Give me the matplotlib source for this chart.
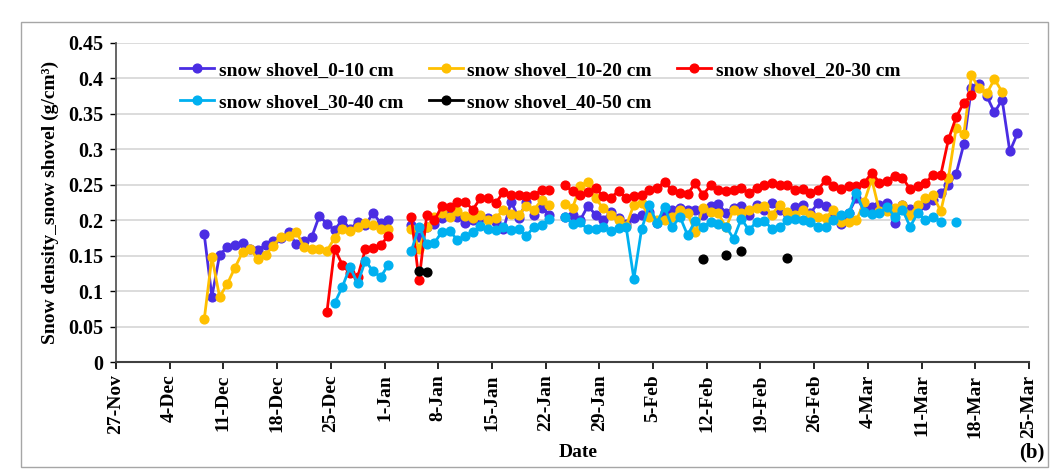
import matplotlib
matplotlib.use('Agg')
import matplotlib.pyplot as plt
import numpy as np
import pandas as pd
from matplotlib.patches import Rectangle

N = None
# daily sampling dates (Dec 8 2019 -> Mar 23 2020)
dates = pd.date_range('2019-12-08', '2020-03-23', freq='D')

depth_0_10 = [
    0.18, 0.092, 0.151, 0.162, 0.165, 0.168, 0.16, 0.158, 0.165, 0.17, 0.175, 0.183, 0.166,
    0.17, 0.176, 0.206, 0.195, 0.186, 0.201, 0.187, 0.198, 0.193, 0.21, 0.196, 0.2,
    N, N,
    0.193, 0.176, 0.19, 0.195, 0.203, 0.208, 0.205, 0.196, 0.2, 0.203, 0.203, 0.198, 0.187,
    0.226, 0.203, 0.226, 0.208, 0.217, 0.208,
    N,
    0.205, 0.207, 0.2, 0.22, 0.208, 0.2, 0.212, 0.203, 0.194, 0.203, 0.208, 0.212, 0.196,
    0.212, 0.215, 0.217, 0.215, 0.215, 0.208, 0.22, 0.223, 0.21, 0.217, 0.22, 0.208,
    0.221, 0.215, 0.224, 0.215, 0.21, 0.218, 0.221, 0.21, 0.224, 0.22, 0.208, 0.194, 0.21,
    0.232, 0.215, 0.218, 0.222, 0.224, 0.196, 0.222, 0.216, 0.218, 0.222, 0.229, 0.2385,
    0.249, 0.2655, 0.307, 0.387, 0.392, 0.375, 0.352, 0.37, 0.297, 0.3225,
]

depth_10_20 = [
    0.06, 0.148, 0.092, 0.11, 0.133, 0.155, 0.159, 0.145, 0.151, 0.164, 0.177, 0.178, 0.184,
    0.162, 0.159, 0.159, 0.157, 0.175, 0.187, 0.185, 0.19, 0.196, 0.193, 0.187, 0.187,
    N, N,
    0.188, 0.16, 0.19, 0.204, 0.21, 0.205, 0.213, 0.206, 0.203, 0.208, 0.2, 0.203, 0.215,
    0.209, 0.208, 0.22, 0.215, 0.229, 0.222,
    N,
    0.223, 0.217, 0.248, 0.254, 0.231, 0.217, 0.208, 0.2, 0.192, 0.222, 0.224, 0.205, 0.2,
    0.2, 0.205, 0.215, 0.21, 0.183, 0.217, 0.212, 0.21, 0.19, 0.215, 0.21, 0.215,
    0.217, 0.22, 0.208, 0.222, 0.211, 0.208, 0.215, 0.208, 0.205, 0.203, 0.215, 0.198,
    0.198, 0.2, 0.225, 0.258, 0.213, 0.213, 0.217, 0.222, 0.208, 0.221, 0.2315, 0.235,
    0.2125, 0.26, 0.33, 0.321, 0.4045, 0.386, 0.379, 0.399, 0.381, N, N,
]

depth_20_30 = [
    N, N, N, N, N, N, N, N, N, N, N, N, N, N, N, N,
    0.071, 0.16, 0.137, 0.125, 0.12, 0.159, 0.161, 0.165, 0.178,
    N, N,
    0.204, 0.115, 0.207, 0.2, 0.22, 0.218, 0.226, 0.226, 0.215, 0.231, 0.232, 0.224, 0.24,
    0.235, 0.235, 0.234, 0.235, 0.243, 0.242,
    N,
    0.249, 0.241, 0.236, 0.24, 0.245, 0.234, 0.232, 0.241, 0.232, 0.234, 0.235, 0.242, 0.245,
    0.254, 0.242, 0.238, 0.237, 0.252, 0.236, 0.249, 0.243, 0.241, 0.242, 0.245, 0.238,
    0.2456, 0.25, 0.252, 0.25, 0.25, 0.243, 0.244, 0.239, 0.243, 0.257, 0.248, 0.244, 0.248,
    0.248, 0.252, 0.267, 0.253, 0.256, 0.263, 0.26, 0.244, 0.248, 0.253, 0.264, 0.264,
    0.314, 0.345, 0.366, 0.376, N, N, N, N, N, N,
]

depth_30_40 = [
    N, N, N, N, N, N, N, N, N, N, N, N, N, N, N, N, N,
    0.083, 0.106, 0.134, 0.111, 0.143, 0.128, 0.12, 0.137,
    N, N,
    0.157, 0.191, 0.166, 0.168, 0.184, 0.185, 0.172, 0.178, 0.183, 0.192, 0.187, 0.186, 0.19,
    0.186, 0.187, 0.178, 0.191, 0.193, 0.202,
    N,
    0.205, 0.195, 0.197, 0.187, 0.187, 0.191, 0.185, 0.189, 0.19, 0.117, 0.187, 0.221, 0.196,
    0.219, 0.19, 0.205, 0.179, 0.199, 0.19, 0.198, 0.195, 0.191, 0.174, 0.202, 0.186, 0.198,
    0.199, 0.188, 0.19, 0.2, 0.202, 0.2, 0.198, 0.191, 0.191, 0.2, 0.207, 0.21, 0.238,
    0.212, 0.209, 0.21, 0.219, 0.205, 0.215, 0.191, 0.21, 0.2, 0.205, 0.198, N, 0.197,
    N, N, N, N, N, N, N, N,
]

dates_40_50 = pd.to_datetime(['2020-01-05', '2020-01-06', '2020-02-11',
                              '2020-02-14', '2020-02-16', '2020-02-22'])
depth_40_50 = [0.128, 0.127, 0.145, 0.151, 0.156, 0.147]

labels = ['snow shovel_0-10 cm', 'snow shovel_10-20 cm', 'snow shovel_20-30 cm',
          'snow shovel_30-40 cm', 'snow shovel_40-50 cm']
colors = ['#4A2DE3', '#FFC000', '#FF0000', '#00B0F0', '#000000']

yticks = [0, 0.05, 0.1, 0.15, 0.2, 0.25, 0.3, 0.35, 0.4, 0.45]
ytick_labels = ['0', '0.05', '0.1', '0.15', '0.2', '0.25', '0.3', '0.35', '0.4', '0.45']

FONT = 'Liberation Serif'
plt.rcParams['font.family'] = [FONT, 'DejaVu Serif']
plt.rcParams['font.weight'] = 'bold'

W, H = 1057, 469
fig = plt.figure(figsize=(W / 100, H / 100), dpi=100)
ax = fig.add_axes([116 / W, 1 - 362 / H, (1029 - 116) / W, (362 - 43) / H])

offset = pd.Timedelta(hours=12)
LW, MS = 2.0, 6.3
series = [depth_0_10, depth_10_20, depth_20_30, depth_30_40]
handles = []
for vals, col, lab in zip(series, colors[:4], labels[:4]):
    h, = ax.plot(dates + offset, np.array(vals, dtype=float), color=col, lw=LW,
                 marker='o', ms=MS, mfc=col, mec=col, label=lab, zorder=3)
    handles.append(h)
# 40-50 cm: put on the daily grid so that non-consecutive days are not joined
black = pd.Series(depth_40_50, index=dates_40_50).reindex(dates)
h, = ax.plot(dates + offset, black.values.astype(float), color=colors[4],
             lw=LW, marker='o', ms=MS, label=labels[4], zorder=3)
handles.append(h)

ax.set_xlim(pd.Timestamp('2019-11-27'), pd.Timestamp('2020-03-25'))
ax.set_ylim(0, 0.45)
ax.set_yticks(yticks)
ax.set_yticklabels(ytick_labels)
xt = pd.date_range('2019-11-27', '2020-03-25', freq='7D')
ax.set_xticks(xt)
ax.set_xticklabels([f"{d.day}-{d.strftime('%b')}" for d in xt], rotation=90)

for t in ax.get_xticklabels():
    t.set_fontsize(14)
    t.set_fontweight('bold')
for t in ax.get_yticklabels():
    t.set_fontsize(14.5)
    t.set_fontweight('bold')
ax.tick_params(axis='x', length=5, width=1.2, direction='out', pad=4, colors='black')
ax.tick_params(axis='y', length=4, width=1.0, direction='out', pad=5, colors='black')

ax.grid(axis='y', color='#D9D9D9', lw=1.3, zorder=0)
ax.set_axisbelow(True)
for s in ['top', 'right']:
    ax.spines[s].set_visible(False)
ax.spines['left'].set_color('#595959')
ax.spines['left'].set_linewidth(1.3)
ax.spines['bottom'].set_color('#404040')
ax.spines['bottom'].set_linewidth(1.5)

ax.set_ylabel('Snow density_snow shovel (g/cm³)', fontsize=14, fontweight='bold', labelpad=7)
fig.text(578 / W, 1 - 452 / H, 'Date', fontsize=14, fontweight='bold', ha='center', va='center')
fig.text(1044 / W, 1 - 452 / H, '(b)', fontsize=15, fontweight='bold', ha='right', va='center')

order = [0, 3, 1, 4, 2]
leg = fig.legend([handles[i] for i in order], [labels[i] for i in order], ncol=3,
                 loc='upper left', bbox_to_anchor=(180 / W, 1 - 61 / H),
                 frameon=False, prop={'family': FONT, 'weight': 'bold', 'size': 14},
                 handlelength=1.75, handletextpad=0.25, columnspacing=1.3,
                 labelspacing=0.75, borderpad=0, borderaxespad=0)

fig.patches.append(Rectangle((21 / W, 1 - 467 / H), (1048 - 21) / W, (467 - 22) / H,
                             transform=fig.transFigure, fill=False, edgecolor='#A6A6A6',
                             lw=1.0))

fig.savefig('out.png', dpi=100)
